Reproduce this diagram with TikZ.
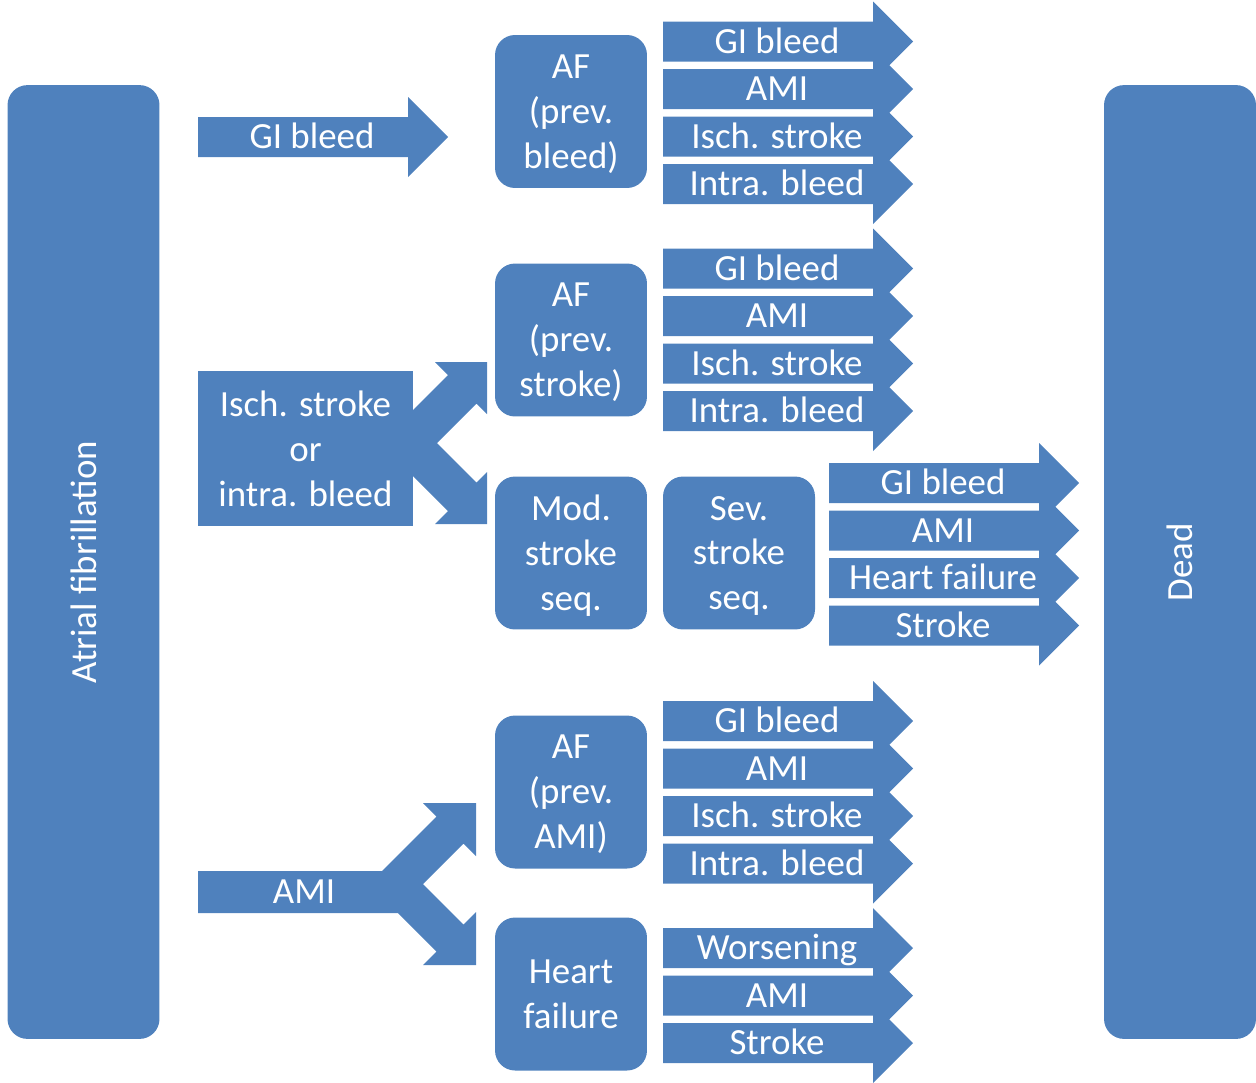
\documentclass[tikz,border=0pt]{standalone}
\usepackage{fontspec}
\setmainfont{Carlito}
\usetikzlibrary{positioning}
\definecolor{afblue}{RGB}{79,129,189}

% block arrow with label: name, left x, centre y, text
\newcommand{\stackarrow}[4]{%
  \fill[afblue] (#2,{#3-20}) -- ({#2+210},{#3-20}) -- ({#2+210},{#3-40})
    -- ({#2+250},#3) -- ({#2+210},{#3+40}) -- ({#2+210},{#3+20})
    -- (#2,{#3+20}) -- cycle;
  \node[lbl] (#1) at ({#2+114},#3) {#4};}

\begin{document}
\begin{tikzpicture}[x=0.02cm,y=-0.02cm]
  \tikzstyle{every node}+=[inner sep=0pt, text=white, font=\fontsize{21}{25.6}\selectfont]
  \tikzstyle{lbl}=[text height=13.5pt, text depth=0pt]
  \tikzstyle{health}=[fill=afblue, rounded corners=0.4cm, minimum width=3.04cm, minimum height=3.06cm, align=center, text depth=0pt]
  \tikzstyle{bar}=[fill=afblue, rounded corners=0.4cm, rotate=90, minimum width=19.08cm, minimum height=3.04cm]
  \useasboundingbox (0,0) rectangle (1256,1082);

  % start and end states
  \node[bar] (af) at (83.5,562) {Atrial fibrillation};
  \node[bar] (dead) at (1180,562) {Dead};

  % after GI bleed
  \stackarrow{gi}{198}{137}{GI bleed}
  \node[health] (afbleed) at (571,111.5) {AF\\(prev.\\bleed)};
  \stackarrow{ba}{663}{41.5}{GI bleed}
  \stackarrow{bb}{663}{89}{AMI}
  \stackarrow{bc}{663}{136.5}{Isch. stroke}
  \stackarrow{bd}{663}{184}{Intra. bleed}

  % after stroke
  \node[fill=afblue, minimum width=4.3cm, minimum height=3.1cm, align=center] (isch) at (305.5,448.5) {Isch. stroke\\or\\intra. bleed};
  \fill[afblue] (413,410) -- (448,375) -- (435,362) -- (487,362) -- (487,414)
    -- (476.5,403.5) -- (437,443) -- (476.5,482.5) -- (487,472) -- (487,524)
    -- (435,524) -- (448,511) -- (413,476) -- cycle;
  \node[health] (afstroke) at (571,340) {AF\\(prev.\\stroke)};
  \stackarrow{sa}{663}{268.5}{GI bleed}
  \stackarrow{sb}{663}{316}{AMI}
  \stackarrow{sc}{663}{363.5}{Isch. stroke}
  \stackarrow{sd}{663}{411}{Intra. bleed}
  \node[health] (modseq) at (571,553) {Mod.\\stroke\\seq.};
  \node[health] (sevseq) at (739,553) {Sev.\\stroke\\seq.};
  \stackarrow{qa}{829}{483}{GI bleed}
  \stackarrow{qb}{829}{530.5}{AMI}
  \stackarrow{qc}{829}{578}{Heart failure}
  \stackarrow{qd}{829}{625.5}{Stroke}

  % after AMI
  \fill[afblue] (198,871) -- (382,871) -- (436.5,816.5) -- (423,803) -- (476,803)
    -- (476,856) -- (463.5,843.5) -- (423,884) -- (463.5,924.5) -- (476,912)
    -- (476,965) -- (423,965) -- (436.5,951.5) -- (398,913) -- (198,913) -- cycle;
  \node[lbl] (ami) at (304,892) {AMI};
  \node[health] (afami) at (571,792) {AF\\(prev.\\AMI)};
  \stackarrow{ma}{663}{721}{GI bleed}
  \stackarrow{mb}{663}{768.5}{AMI}
  \stackarrow{mc}{663}{816}{Isch. stroke}
  \stackarrow{md}{663}{863.5}{Intra. bleed}
  \node[health] (hfail) at (571,994) {Heart\\failure};
  \stackarrow{ha}{663}{948}{Worsening}
  \stackarrow{hb}{663}{995.5}{AMI}
  \stackarrow{hc}{663}{1043}{Stroke}
\end{tikzpicture}
\end{document}
